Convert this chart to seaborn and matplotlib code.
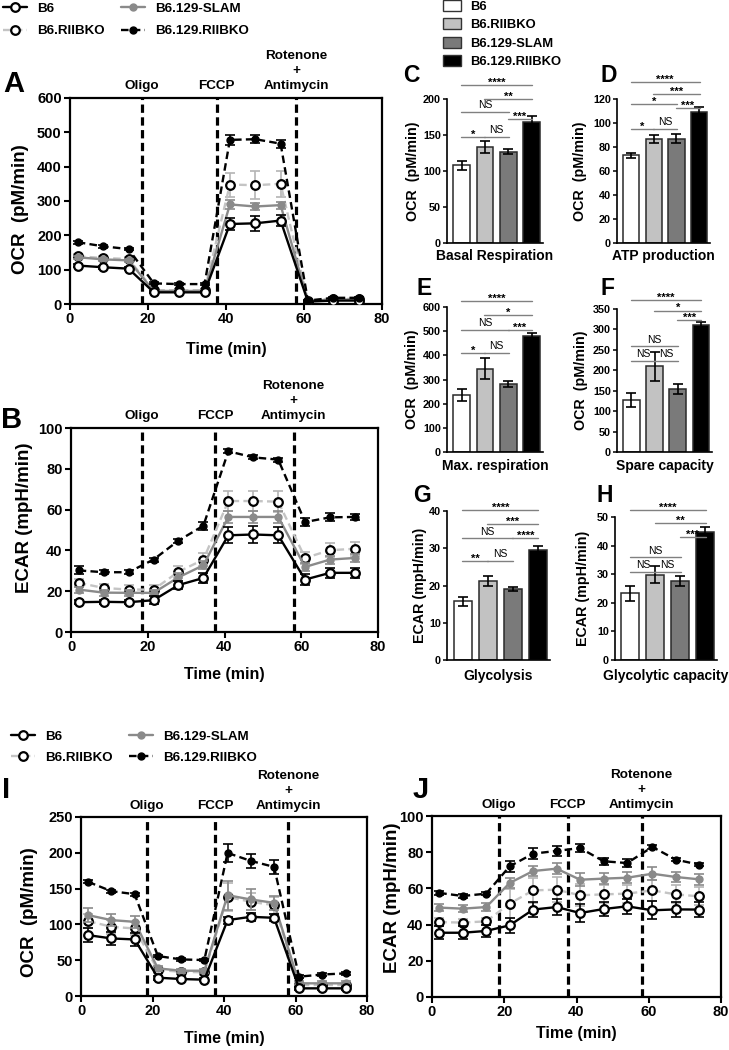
import numpy as np
import pandas as pd
import matplotlib
matplotlib.use("Agg")
import matplotlib.pyplot as plt
import seaborn as sns
from matplotlib.lines import Line2D
from matplotlib.patches import Patch

# ---------------- data ----------------
groups = ["B6", "B6.RIIBKO", "B6.129-SLAM", "B6.129.RIIBKO"]
time_min = [2, 8.5, 15, 21.5, 28, 34.5, 41, 47.5, 54, 61, 67.5, 74]
injection_times = [18.5, 37.6, 58.0]
injection_labels = ["Oligo", "FCCP", "Rotenone\n+\nAntimycin"]

# Panel A - OCR (pM/min)
ocr_a_b6 = [112, 107, 103, 34, 34, 34, 233, 235, 243, 7, 10, 10]
ocr_a_b6_err = [5, 5, 5, 3, 3, 3, 18, 22, 15, 2, 2, 2]
ocr_a_riibko = [139, 134, 131, 40, 40, 40, 348, 346, 350, 10, 15, 15]
ocr_a_riibko_err = [6, 6, 6, 3, 3, 3, 35, 40, 38, 2, 2, 2]
ocr_a_slam = [136, 130, 127, 38, 38, 38, 290, 284, 288, 9, 13, 13]
ocr_a_slam_err = [4, 4, 4, 2, 2, 2, 12, 10, 10, 2, 2, 2]
ocr_a_dko = [180, 168, 160, 60, 58, 58, 478, 480, 467, 10, 18, 18]
ocr_a_dko_err = [4, 4, 4, 3, 3, 3, 15, 12, 12, 2, 2, 2]

# Panel B - ECAR (mpH/min)
ecar_b_b6 = [14.6, 14.8, 14.6, 15.6, 23.0, 26.5, 47.4, 47.8, 47.4, 25.7, 29.0, 29.0]
ecar_b_b6_err = [1, 1, 1, 2, 2, 2.5, 4, 4, 4, 2.5, 2.5, 2.5]
ecar_b_riibko = [24.1, 21.6, 20.8, 20.8, 29.5, 35.5, 64.2, 64.2, 63.9, 36.3, 40.1, 40.8]
ecar_b_riibko_err = [2, 2, 2, 2, 3, 3, 5, 5, 5, 3, 3.5, 3.5]
ecar_b_slam = [20.8, 19.3, 19.2, 19.2, 26.8, 32.7, 56.4, 56.4, 56.4, 31.9, 35.5, 36.3]
ecar_b_slam_err = [1.5, 1.5, 1.5, 1.5, 2, 2, 3, 3, 3, 2, 2, 2]
ecar_b_dko = [30.2, 29.3, 29.3, 35.5, 44.8, 52.1, 88.6, 85.6, 84.5, 53.9, 56.2, 56.4]
ecar_b_dko_err = [2, 1, 1, 1, 1, 2, 1, 1, 1, 2, 2, 1.5]

# Panel I - OCR (pM/min)
ocr_i_b6 = [85, 80.4, 79, 25.6, 23.7, 22.8, 106, 110.6, 109.2, 10.7, 10.7, 10.7]
ocr_i_b6_err = [10, 9, 9, 3, 2, 2, 5, 6, 5, 2, 2, 2]
ocr_i_riibko = [104.6, 96.7, 94.3, 36.2, 33.9, 33, 138.5, 131.5, 126.9, 15.3, 15.3, 15.3]
ocr_i_riibko_err = [10, 10, 9, 4, 3, 3, 20, 12, 12, 3, 3, 3]
ocr_i_slam = [112.9, 106, 103.6, 38.6, 35.3, 35.3, 140.8, 134.8, 130.1, 17.7, 17.7, 17.7]
ocr_i_slam_err = [10, 8, 8, 3, 3, 3, 20, 14, 10, 3, 3, 3]
ocr_i_dko = [159.4, 146.4, 142.2, 55.8, 51.1, 50.2, 199.8, 188.7, 180.3, 27, 30, 31.6]
ocr_i_dko_err = [2, 2, 2, 2, 2, 2, 12, 10, 10, 2, 2, 2]

# Panel J - ECAR (mpH/min)
ecar_j_b6 = [35.5, 35.5, 36.5, 39.6, 48.3, 49.7, 46.4, 48.6, 50.1, 47.9, 48.4, 48.3]
ecar_j_b6_err = [3.5, 3.5, 3.5, 4, 4, 4.5, 5, 4, 4, 5, 4, 4]
ecar_j_riibko = [41.4, 41.1, 41.8, 51.6, 58.9, 59.3, 56.2, 56.7, 57.1, 58.9, 56.7, 55.6]
ecar_j_riibko_err = [2, 2, 2, 8, 7, 7, 6, 5, 5, 6, 5, 5]
ecar_j_slam = [49.4, 48.8, 49.7, 63, 69.6, 70.9, 64.8, 65.4, 65.9, 68.1, 66.3, 65]
ecar_j_slam_err = [2, 2, 2, 3, 3, 3, 3.5, 3, 3, 3.5, 3, 3]
ecar_j_dko = [57.5, 55.8, 57.1, 72.2, 79.2, 80.7, 82.3, 75, 74, 82.9, 75.9, 73.1]
ecar_j_dko_err = [1, 1, 1, 3, 3, 3, 2, 2, 2, 1, 1, 1]

# Bar panels
basal = [108, 133, 127, 168]
basal_err = [6, 8, 3, 8]
atp = [73, 86.5, 87, 109]
atp_err = [2, 3.5, 3.5, 4]
max_resp = [235, 345, 282, 478]
max_resp_err = [25, 42, 12, 14]
spare = [127, 210, 155, 310]
spare_err = [18, 35, 12, 9]
glyco = [15.8, 21.3, 19.1, 29.5]
glyco_err = [1.2, 1.3, 0.6, 1.1]
glycap = [23.3, 29.8, 27.6, 44.8]
glycap_err = [2.6, 3.0, 1.6, 1.7]

# significance brackets: (bar i, bar j, height, label)
sig_c = [(0, 3, 219, "****"), (1, 3, 200, "**"), (0, 2, 182, "NS"), (2, 3, 172, "***"), (0, 1, 147, "*"), (1, 2, 147, "NS")]
sig_d = [(0, 3, 134, "****"), (1, 3, 124, "***"), (0, 2, 116, "*"), (2, 3, 112.5, "***"), (0, 1, 95, "*"), (1, 2, 95, "NS")]
sig_e = [(0, 3, 625, "****"), (1, 3, 567, "*"), (0, 2, 505, "NS"), (2, 3, 505, "***"), (0, 1, 410, "*"), (1, 2, 410, "NS")]
sig_f = [(0, 3, 372, "****"), (1, 3, 346, "*"), (2, 3, 323, "***"), (0, 2, 259, "NS"), (0, 1, 223, "NS"), (1, 2, 223, "NS")]
sig_g = [(0, 3, 40.3, "****"), (1, 3, 36.5, "***"), (0, 2, 32.7, "NS"), (2, 3, 32.7, "****"), (0, 1, 26.6, "**"), (1, 2, 26.6, "NS")]
sig_h = [(0, 3, 52.4, "****"), (1, 3, 48, "**"), (2, 3, 42.9, "***"), (0, 2, 35.9, "NS"), (0, 1, 30.8, "NS"), (1, 2, 30.8, "NS")]

# ---------------- style ----------------
sns.set_theme(style="ticks")
plt.rcParams['font.family'] = ['Liberation Sans', 'DejaVu Sans']
plt.rcParams['font.weight'] = 'bold'
plt.rcParams['axes.labelweight'] = 'bold'
plt.rcParams['text.color'] = 'black'
plt.rcParams['axes.labelcolor'] = 'black'
plt.rcParams['xtick.color'] = 'black'
plt.rcParams['ytick.color'] = 'black'

W, H = 729, 1050
fig = plt.figure(figsize=(W / 100, H / 100), dpi=100)
fig.patch.set_facecolor('white')


def add_ax(l, t, r, b):
    return fig.add_axes([l / W, 1 - b / H, (r - l) / W, (b - t) / H])


line_styles = {
    "B6": dict(color='black', ls='-', mfc='white', mec='black', ms=6.2, mew=1.6, ecolor='black', z=5),
    "B6.RIIBKO": dict(color='#c4c4c4', ls='--', mfc='white', mec='black', ms=6.2, mew=1.6, ecolor='#b4b4b4', z=3),
    "B6.129-SLAM": dict(color='#8a8a8a', ls='-', mfc='#8a8a8a', mec='#8a8a8a', ms=5.0, mew=1.0, ecolor='#8a8a8a', z=4),
    "B6.129.RIIBKO": dict(color='black', ls='--', mfc='black', mec='black', ms=5.0, mew=1.0, ecolor='black', z=6),
}
bar_colors = {"B6": "white", "B6.RIIBKO": "#c2c2c2", "B6.129-SLAM": "#7a7a7a", "B6.129.RIIBKO": "black"}


def line_panel(ax, series, errs, ylim, yticks, ylabel, ylab_x, ylab_y, xlab_y):
    for g in ["B6.RIIBKO", "B6.129-SLAM", "B6", "B6.129.RIIBKO"]:
        st = line_styles[g]
        ax.errorbar(time_min, series[g], yerr=errs[g], fmt='none', ecolor=st['ecolor'],
                    elinewidth=1.2, capsize=3.5, capthick=1.2, zorder=st['z'])
        df = pd.DataFrame({"Time (min)": time_min, "value": series[g]})
        sns.lineplot(data=df, x="Time (min)", y="value", ax=ax, color=st['color'],
                     linestyle=st['ls'], lw=1.7, marker='o', markersize=st['ms'],
                     markerfacecolor=st['mfc'], markeredgecolor=st['mec'],
                     markeredgewidth=st['mew'], zorder=st['z'] + 0.5, legend=False)
        if st['ls'] == '--':
            ax.lines[-1].set_dashes((3.2, 1.8))
    for tx, lab in zip(injection_times, injection_labels):
        ax.axvline(tx, color='black', lw=2.3, dashes=(2.6, 1.4), zorder=2)
        ax.text(tx, 1.03, lab, transform=ax.get_xaxis_transform(), ha='center', va='bottom',
                fontsize=9.7, fontweight='bold', linespacing=1.3)
    ax.set_xlim(0, 80)
    ax.set_ylim(*ylim)
    ax.set_xticks([0, 20, 40, 60, 80])
    ax.set_yticks(yticks)
    for s in ax.spines.values():
        s.set_linewidth(1.6)
        s.set_color('black')
    ax.tick_params(axis='both', direction='out', length=4, width=1.5, labelsize=10.5, pad=2)
    ax.set_ylabel(ylabel, fontsize=13.5, fontweight='bold', va='center')
    ax.yaxis.set_label_coords(ylab_x, ylab_y)
    ax.set_xlabel("Time (min)", fontsize=11.5, fontweight='bold', va='center')
    ax.xaxis.set_label_coords(0.5, xlab_y)
    for lab in ax.get_xticklabels() + ax.get_yticklabels():
        lab.set_fontweight('bold')


def bar_panel(ax, vals, errs, ylim, yticks, ylabel, xlabel, sig, ylab_x, xlab_y):
    df = pd.DataFrame({"group": groups, "value": vals})
    sns.barplot(data=df, x="group", y="value", hue="group", order=groups, hue_order=groups,
                palette=bar_colors, width=0.72, edgecolor='#2a2a2a', linewidth=1.1,
                errorbar=None, legend=False, ax=ax)
    ax.errorbar(range(len(groups)), vals, yerr=errs, fmt='none', ecolor='black',
                elinewidth=1.2, capsize=3.5, capthick=1.2, zorder=5)
    for (i, j, lev, lab) in sig:
        ax.plot([i - 0.02, j + 0.02], [lev, lev], color='#808080', lw=1.0, clip_on=False, zorder=6)
        if lab == "NS":
            ax.annotate(lab, xy=((i + j) / 2, lev), xytext=(0, 1.2), textcoords='offset points',
                        ha='center', va='bottom', fontsize=7.5, fontweight='normal',
                        annotation_clip=False)
        else:
            ax.annotate(lab, xy=((i + j) / 2, lev), xytext=(0, -0.5), textcoords='offset points',
                        ha='center', va='baseline', fontsize=8, fontweight='bold',
                        annotation_clip=False)
    ax.set_xlim(-0.62, 3.48)
    ax.set_ylim(*ylim)
    ax.set_yticks(yticks)
    ax.set_xticks([])
    sns.despine(ax=ax)
    for s in ['left', 'bottom']:
        ax.spines[s].set_linewidth(1.2)
        ax.spines[s].set_color('black')
    ax.tick_params(axis='y', direction='out', length=3, width=1.1, labelsize=7.8, pad=1.5)
    ax.set_ylabel(ylabel, fontsize=10.3, fontweight='bold', va='center')
    ax.yaxis.set_label_coords(ylab_x, 0.5)
    ax.set_xlabel(xlabel, fontsize=10, fontweight='bold', va='center')
    ax.xaxis.set_label_coords(0.5, xlab_y)
    for lab in ax.get_yticklabels():
        lab.set_fontweight('bold')


# ---- panels A, B, I, J ----
axA = add_ax(70, 98, 382, 304)
line_panel(axA,
           {"B6": ocr_a_b6, "B6.RIIBKO": ocr_a_riibko, "B6.129-SLAM": ocr_a_slam, "B6.129.RIIBKO": ocr_a_dko},
           {"B6": ocr_a_b6_err, "B6.RIIBKO": ocr_a_riibko_err, "B6.129-SLAM": ocr_a_slam_err, "B6.129.RIIBKO": ocr_a_dko_err},
           (0, 600), range(0, 601, 100), "OCR  (pM/min)", -0.16, 0.46, -0.223)

axB = add_ax(71, 428, 378, 632)
line_panel(axB,
           {"B6": ecar_b_b6, "B6.RIIBKO": ecar_b_riibko, "B6.129-SLAM": ecar_b_slam, "B6.129.RIIBKO": ecar_b_dko},
           {"B6": ecar_b_b6_err, "B6.RIIBKO": ecar_b_riibko_err, "B6.129-SLAM": ecar_b_slam_err, "B6.129.RIIBKO": ecar_b_dko_err},
           (0, 100), range(0, 101, 20), "ECAR (mpH/min)", -0.15, 0.56, -0.21)

axI = add_ax(81, 817, 367, 996)
line_panel(axI,
           {"B6": ocr_i_b6, "B6.RIIBKO": ocr_i_riibko, "B6.129-SLAM": ocr_i_slam, "B6.129.RIIBKO": ocr_i_dko},
           {"B6": ocr_i_b6_err, "B6.RIIBKO": ocr_i_riibko_err, "B6.129-SLAM": ocr_i_slam_err, "B6.129.RIIBKO": ocr_i_dko_err},
           (0, 250), range(0, 251, 50), "OCR  (pM/min)", -0.18, 0.47, -0.235)

axJ = add_ax(432, 816, 721, 997)
line_panel(axJ,
           {"B6": ecar_j_b6, "B6.RIIBKO": ecar_j_riibko, "B6.129-SLAM": ecar_j_slam, "B6.129.RIIBKO": ecar_j_dko},
           {"B6": ecar_j_b6_err, "B6.RIIBKO": ecar_j_riibko_err, "B6.129-SLAM": ecar_j_slam_err, "B6.129.RIIBKO": ecar_j_dko_err},
           (0, 100), range(0, 101, 20), "ECAR (mpH/min)", -0.135, 0.55, -0.204)

# ---- bar panels ----
axC = add_ax(447, 99, 543, 243)
bar_panel(axC, basal, basal_err, (0, 200), range(0, 201, 50), "OCR  (pM/min)", "Basal Respiration", sig_c, -0.35, -0.09)
axD = add_ax(617, 99, 710, 243)
bar_panel(axD, atp, atp_err, (0, 120), range(0, 121, 20), "OCR  (pM/min)", "ATP production", sig_d, -0.40, -0.09)
axE = add_ax(447, 307, 543, 452)
bar_panel(axE, max_resp, max_resp_err, (0, 600), range(0, 601, 100), "OCR  (pM/min)", "Max. respiration", sig_e, -0.36, -0.097)
axF = add_ax(617, 309, 712, 452)
bar_panel(axF, spare, spare_err, (0, 350), range(0, 351, 50), "OCR  (pM/min)", "Spare capacity", sig_f, -0.38, -0.1)
axG = add_ax(447, 511, 550, 660)
bar_panel(axG, glyco, glyco_err, (0, 40), range(0, 41, 10), "ECAR (mpH/min)", "Glycolysis", sig_g, -0.26, -0.107)
axH = add_ax(615, 517, 717, 660)
bar_panel(axH, glycap, glycap_err, (0, 50), range(0, 51, 10), "ECAR (mpH/min)", "Glycolytic capacity", sig_h, -0.31, -0.11)

# ---- legends ----
def line_handle(g):
    st = line_styles[g]
    h = Line2D([], [], color=st['color'], lw=1.7, linestyle=st['ls'], marker='o', markersize=st['ms'],
               markerfacecolor=st['mfc'], markeredgecolor=st['mec'], markeredgewidth=st['mew'])
    if st['ls'] == '--':
        h.set_dashes((3.2, 1.8))
    return h

for (x0, y0, ls) in [(0, 0, 0.75), (8, 728, 0.62)]:
    fig.legend([line_handle(g) for g in groups], groups, ncol=2, loc='upper left',
               bbox_to_anchor=(x0 / W, 1 - y0 / H), frameon=False,
               prop=dict(size=9.6, weight='bold'), handlelength=1.8, handletextpad=0.8,
               columnspacing=1.2, labelspacing=ls, borderpad=0.2, borderaxespad=0)

fig.legend([Patch(facecolor=bar_colors[g], edgecolor='#333333', lw=1.0) for g in groups], groups,
           loc='upper left', bbox_to_anchor=(443 / W, 1.0), frameon=False,
           prop=dict(size=9.4, weight='bold'), handlelength=1.4, handleheight=0.9,
           handletextpad=0.7, labelspacing=0.42, borderpad=0, borderaxespad=0)

# ---- panel letters ----
for lab, x, yb, fs in [("A", 3, 92, 21), ("B", 1, 428, 21), ("I", 2, 798, 21), ("J", 413, 798, 21),
                        ("C", 403, 82, 16.5), ("D", 600, 82, 16.5), ("E", 416, 295, 16.5),
                        ("F", 600, 295, 16.5), ("G", 413, 502, 16.5), ("H", 597, 502, 16.5)]:
    fig.text(x / W, 1 - yb / H, lab, fontsize=fs, fontweight='bold', va='baseline', ha='left')

fig.savefig("out.png", dpi=100, facecolor='white')
